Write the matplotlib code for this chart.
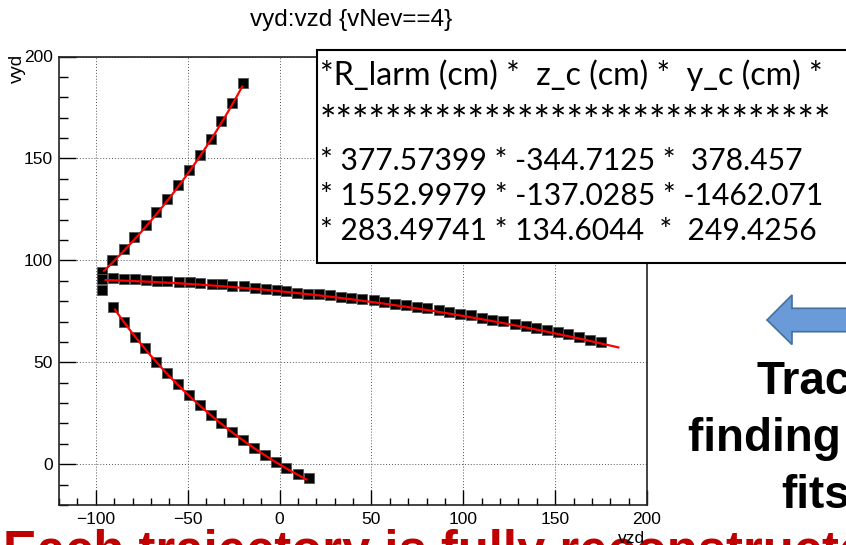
import numpy as np
import matplotlib
matplotlib.use("Agg")
import matplotlib.pyplot as plt
from matplotlib.patches import Rectangle, Polygon
from matplotlib.ticker import MultipleLocator

# ---------------------------------------------------------------------------
# Data (vzd, vyd) for the three tracks of event vNev==4
# ---------------------------------------------------------------------------
track_up_x = [-96.4, -90.9, -84.6, -79.2, -72.8, -67.0, -61.0, -55.1, -49.3,
              -43.5, -37.5, -31.7, -25.9, -19.9]
track_up_y = [94.1, 100.0, 105.4, 111.4, 117.5, 123.9, 130.2, 137.1, 144.3,
              151.5, 159.6, 168.3, 177.3, 187.1]

track_flat_x = [-96.4, -90.6, -84.6, -78.6, -72.5, -66.5, -61.0, -54.7, -48.9,
                -43.3, -37.0, -31.5, -25.7, -19.4, -13.6, -7.6, -1.6, 3.8,
                9.6, 15.6, 21.4, 27.7, 33.5, 39.1, 44.9, 51.3, 57.1, 63.0,
                69.0, 74.8, 80.3, 86.6, 92.4, 98.0, 104.2, 110.2, 115.9,
                121.9, 127.9, 134.1, 139.7, 145.5, 151.3, 157.2, 163.2,
                169.0, 175.0]
track_flat_y = [90.7, 91.2, 91.0, 90.7, 90.4, 89.9, 89.7, 89.4, 89.4, 88.7,
                88.4, 88.4, 87.4, 87.4, 86.4, 86.1, 85.4, 85.0, 84.2, 83.7,
                83.3, 82.8, 82.0, 81.7, 80.9, 80.4, 79.8, 78.8, 78.1, 77.1,
                76.5, 75.5, 74.9, 73.9, 73.2, 71.6, 70.9, 70.3, 69.0, 67.8,
                67.0, 66.0, 64.9, 63.7, 62.4, 60.9, 60.0]

track_down_x = [-96.4, -90.4, -84.6, -78.8, -73.2, -67.2, -61.4, -55.1, -49.3,
                -43.5, -37.5, -31.7, -25.7, -19.9, -14.0, -8.0, -2.0, 3.8,
                9.8, 15.8]
track_down_y = [85.4, 77.3, 70.0, 62.6, 56.9, 50.3, 44.6, 39.2, 33.8, 29.1,
                24.2, 20.0, 15.9, 11.8, 7.8, 4.6, 1.3, -2.0, -4.9, -7.0]

# circle fit results (same order as the table rows)
r_larm = [377.57399, 1552.9979, 283.49741]
z_c = [-344.7125, -137.0285, 134.6044]
y_c = [378.457, -1462.071, 249.4256]
fit_lo = [-95.5, -94.6, -89.5]
fit_hi = [-20.3, 184.4, 14.7]

table_header = "*R_larm (cm) *  z_c (cm) *  y_c (cm) *"
table_stars = "*" * 31
table_rows = [
    "* 377.57399 * -344.7125 *  378.457",
    "* 1552.9979 * -137.0285 * -1462.071",
    "* 283.49741 * 134.6044  *  249.4256",
]

W, H = 846, 545


def fx(px):
    return px / W


def fy(py):
    return 1 - py / H


fig = plt.figure(figsize=(W / 100, H / 100), dpi=100)
ax = fig.add_axes([fx(59), fy(505), (647 - 59) / W, (505 - 56.5) / H])

tracks = [(track_up_x, track_up_y), (track_flat_x, track_flat_y),
          (track_down_x, track_down_y)]

for (tx, ty), R, zc, yc, lo, hi in zip(tracks, r_larm, z_c, y_c, fit_lo, fit_hi):
    ax.plot(tx, ty, ls="none", marker="s", ms=6.5, mfc="black",
            mec="#555555", mew=0.6, zorder=3)
    # fitted circle arc, branch chosen from which side of the centre the hits are
    branch = np.sign(ty[0] - yc)
    zz = np.linspace(lo, hi, 200)
    ax.plot(zz, yc + branch * np.sqrt(R ** 2 - (zz - zc) ** 2),
            color="red", lw=1.6, zorder=4)

ax.set_xlim(-120, 200)
ax.set_ylim(-20, 200)
ax.xaxis.set_major_locator(MultipleLocator(50))
ax.xaxis.set_minor_locator(MultipleLocator(10))
ax.yaxis.set_major_locator(MultipleLocator(50))
ax.yaxis.set_minor_locator(MultipleLocator(10))
ax.grid(True, which="major", color="#555555", ls=(0, (1, 2)), lw=0.7)

ax.tick_params(axis="x", which="major", direction="in", length=10.5,
               width=1, pad=5, labelsize=12.5)
ax.tick_params(axis="x", which="minor", direction="in", length=5, width=1)
ax.tick_params(axis="y", which="major", direction="in", length=12,
               width=1, pad=4.5, labelsize=12.5)
ax.tick_params(axis="y", which="minor", direction="in", length=6.5, width=1)
for lab in ax.get_xticklabels() + ax.get_yticklabels():
    lab.set_family("Liberation Sans")
for sp in ax.spines.values():
    sp.set_linewidth(1.2)
    sp.set_color("#222222")

# axis titles and histogram title, ROOT style
fig.text(fx(351), fy(26), "vyd:vzd {vNev==4}", ha="center", va="baseline",
         fontsize=17.5, family="Liberation Sans")
fig.text(fx(17), fy(54), "vyd", rotation=90, ha="center", va="top",
         fontsize=13.5, family="Liberation Sans")
fig.text(fx(645), fy(531), "vzd", ha="right", va="top",
         fontsize=12.5, family="Liberation Sans", zorder=10)

# fit result table pasted on top of the canvas
fig.add_artist(Rectangle((fx(316.8), fy(263)), fx(880) - fx(316.8),
                         fy(49.6) - fy(263), transform=fig.transFigure,
                         facecolor="white", edgecolor="black", lw=1.5,
                         zorder=5))
fig.text(fx(320), fy(85), table_header, ha="left", va="baseline",
         fontsize=23.2, family="Lato", color="black", zorder=6)
fig.text(fx(320), fy(134), table_stars, ha="left", va="baseline",
         fontsize=28, family="Lato", color="black", zorder=6)
for line, yb in zip(table_rows, [170, 205, 240]):
    fig.text(fx(320), fy(yb), line, ha="left", va="baseline",
             fontsize=21.6, family="Lato", color="black", zorder=6)

# slide decorations: arrow and captions
arrow_px = [(767, 320), (792, 295), (792, 308.3), (860, 308.3),
            (860, 331.7), (792, 331.7), (792, 344.5)]
fig.add_artist(Polygon([(fx(a), fy(b)) for a, b in arrow_px], closed=True,
                       transform=fig.transFigure, facecolor="#6A9BD8",
                       edgecolor="#41719C", lw=1.2, zorder=5))

for txt, xs, yb in [("Track", 756, 394), ("finding and", 688, 451),
                    ("fits", 781, 508)]:
    fig.text(fx(xs), fy(yb), txt, ha="left", va="baseline", fontsize=33,
             fontweight="bold", family="Liberation Sans", color="black")

fig.text(fx(3), fy(567), "Each trajectory is fully reconstructed",
         ha="left", va="baseline", fontsize=36.5, fontweight="bold",
         family="Liberation Sans", color="#C00000", zorder=-1)

fig.savefig("out.png", dpi=100)
